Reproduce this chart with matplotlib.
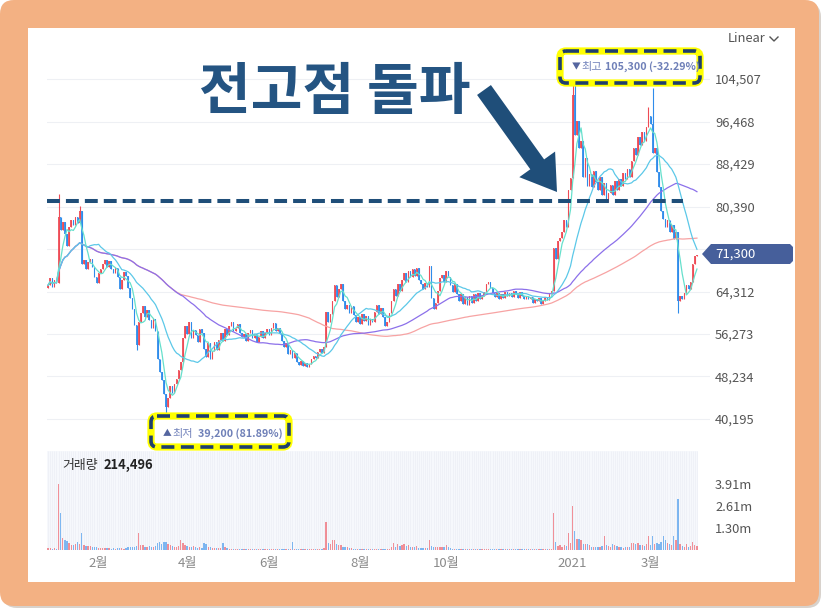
import numpy as np
import pandas as pd
import matplotlib
matplotlib.use('Agg')
import matplotlib.pyplot as plt
from matplotlib.patches import FancyBboxPatch, Rectangle, FancyArrow, Polygon

plt.rcParams['font.family'] = ['Noto Sans CJK KR', 'DejaVu Sans']

# daily closes in 1,000 KRW (late Dec 2019 -> Mar 2021), 10 per row
closes_k = [
    65.5, 66.8, 65.2, 66.5, 66.0, 78.5, 76.0, 77.5, 75.2, 73.0,
    76.5, 77.8, 76.8, 78.5, 77.2, 79.5, 69.5, 70.2, 68.5, 69.8,
    70.5, 69.0, 67.0, 66.0, 67.8, 68.5, 69.5, 70.2, 69.0, 70.0,
    68.5, 67.8, 68.8, 67.0, 64.8, 66.5, 68.0, 67.2, 65.0, 63.0,
    61.0, 58.0, 54.2, 58.5, 60.2, 61.5, 59.5, 60.8, 59.0, 57.5,
    59.2, 56.8, 51.5, 49.0, 47.5, 45.0, 42.5, 44.2, 46.5, 45.2,
    46.8, 47.8, 49.5, 51.0, 55.5, 57.8, 56.2, 58.5, 55.5, 57.0,
    56.0, 54.8, 57.2, 56.5, 53.5, 52.0, 54.5, 51.5, 53.0, 54.8,
    53.2, 55.2, 56.5, 55.0, 57.2, 56.0, 57.8, 58.5, 56.8, 57.5,
    58.2, 56.5, 55.8, 56.2, 55.0, 56.5, 57.0, 55.5, 56.2, 54.8,
    55.8, 56.8, 55.5, 56.5, 57.2, 56.0, 57.5, 58.3, 56.8, 57.5,
    56.2, 55.0, 53.8, 54.5, 52.5, 53.2, 51.8, 52.6, 51.0, 50.5,
    51.2, 50.2, 50.8, 50.0, 50.6, 51.5, 52.2, 51.8, 52.8, 53.5,
    52.6, 53.8, 60.5, 58.5, 60.0, 62.5, 65.5, 63.2, 64.8, 65.8,
    62.5, 61.0, 61.8, 60.2, 61.5, 59.8, 58.6, 59.5, 58.2, 60.0,
    58.8, 59.6, 58.0, 59.2, 58.5, 60.5, 61.8, 60.0, 61.2, 59.5,
    57.8, 58.5, 60.2, 62.5, 64.8, 63.5, 65.8, 64.5, 66.5, 67.8,
    66.2, 68.2, 67.0, 68.5, 67.2, 68.8, 66.5, 65.8, 64.8, 66.0,
    65.2, 69.2, 63.0, 61.0, 62.2, 64.5, 66.8, 67.5, 66.2, 68.2,
    67.0, 65.5, 64.2, 65.8, 63.8, 62.5, 63.8, 62.0, 63.2, 61.8,
    63.5, 62.2, 63.8, 62.5, 64.0, 62.8, 63.5, 64.2, 65.8, 66.2,
    65.0, 64.0, 63.2, 64.0, 62.8, 63.8, 63.0, 64.2, 63.5, 64.0,
    63.2, 64.5, 63.8, 63.0, 64.2, 63.4, 62.8, 63.5, 62.8, 63.2,
    62.2, 62.9, 62.5, 63.0, 62.0, 62.6, 63.2, 62.7, 63.8, 64.5,
    72.5, 70.5, 73.8, 74.5, 75.5, 77.8, 76.5, 83.5, 85.8, 101.5,
    94.0, 96.5, 91.5, 92.8, 86.0, 89.5, 84.2, 86.5, 84.0, 87.2,
    85.0, 83.5, 86.0, 82.5, 84.8, 81.2, 83.0, 84.5, 82.5, 85.2,
    83.6, 85.5, 84.2, 86.8, 85.5, 87.5, 86.0, 89.0, 91.5, 90.2,
    93.5, 92.0, 94.5, 92.8, 95.5, 97.5, 96.0, 90.5, 91.5, 87.0,
    84.0, 79.5, 78.0, 76.5, 77.8, 75.5, 76.8, 74.2, 75.5, 62.5,
    63.5, 62.8, 64.0, 65.5, 64.8, 66.2, 69.5, 71.0, 71.3,
]
first_open_k = 65.0
high_wicks_k = {5: 82.8, 15: 80.5, 249: 105.3, 250: 104.8, 285: 99.2, 287: 102.8}
low_wicks_k = {42: 53.2, 56: 39.2, 299: 60.3}

# daily volume in 1,000 shares
volumes_k = [
    90, 120, 70, 90, 60, 3910, 2200, 700, 600, 550,
    400, 320, 300, 350, 500, 380, 1000, 300, 260, 240,
    220, 200, 180, 150, 120, 110, 100, 90, 110, 95,
    80, 90, 70, 100, 120, 90, 80, 100, 150, 180,
    200, 180, 220, 1000, 320, 300, 200, 180, 220, 200,
    180, 220, 400, 450, 380, 500, 480, 350, 300, 250,
    200, 180, 250, 600, 420, 300, 250, 200, 180, 220,
    150, 130, 160, 140, 400, 380, 200, 150, 130, 120,
    110, 100, 120, 400, 200, 90, 70, 60, 50, 50,
    50, 40, 50, 40, 60, 50, 40, 45, 50, 40,
    40, 50, 40, 45, 60, 50, 40, 70, 50, 45,
    50, 60, 80, 60, 70, 60, 500, 80, 60, 50,
    40, 50, 40, 35, 40, 45, 50, 40, 50, 60,
    60, 90, 1650, 400, 350, 600, 620, 380, 300, 280,
    200, 180, 150, 120, 100, 80, 70, 60, 50, 60,
    50, 40, 50, 45, 40, 60, 70, 50, 45, 40,
    50, 45, 60, 150, 420, 200, 350, 220, 300, 380,
    250, 300, 180, 200, 150, 220, 120, 100, 90, 110,
    120, 600, 250, 200, 180, 150, 200, 180, 150, 300,
    150, 100, 80, 70, 60, 50, 45, 50, 40, 45,
    40, 45, 35, 40, 50, 40, 35, 60, 70, 50,
    40, 35, 30, 40, 35, 30, 40, 35, 30, 35,
    30, 40, 35, 30, 35, 30, 35, 30, 30, 35,
    30, 35, 30, 40, 30, 35, 40, 35, 60, 80,
    2200, 500, 250, 300, 200, 280, 250, 1000, 400, 2600,
    1100, 650, 650, 600, 350, 350, 380, 300, 200, 180,
    150, 180, 200, 250, 800, 300, 250, 200, 350, 300,
    250, 200, 150, 120, 180, 150, 200, 400, 420, 380,
    400, 300, 300, 250, 350, 800, 300, 800, 350, 400,
    350, 500, 850, 600, 400, 350, 300, 800, 600, 3000,
    350, 250, 200, 350, 200, 250, 500, 300, 214.496,
]

# trading days per month, Jan 2020 (incl. late Dec) .. Mar 2021
days_per_month = [24, 20, 22, 20, 19, 21, 22, 20, 21, 19, 21, 20, 20, 17, 23]
month_labels = {1: '2월', 3: '4월', 5: '6월', 7: '8월', 9: '10월', 12: '2021', 14: '3월'}

price_ticks = [40195, 48234, 56273, 64312, 72351, 80390, 88429, 96468, 104507]
prev_high = 81400
ma_windows = [120, 60, 20, 5]
ma_colors = ['#F7A3A3', '#8C70EA', '#5CC8E8', '#66E0CC']

RED, BLUE = '#EE4B55', '#2F8CEB'
NAVY = '#1F4E79'

W, H = 823, 610


def fig_rect(x0, y0, x1, y1):
    return [x0 / W, 1 - y1 / H, (x1 - x0) / W, (y1 - y0) / H]


close = np.array(closes_k) * 1000
n = len(close)
idx = np.arange(n)
opn = np.r_[first_open_k * 1000, close[:-1]]
high = np.maximum(opn, close)
low = np.minimum(opn, close)
for k, v in high_wicks_k.items():
    high[k] = v * 1000
for k, v in low_wicks_k.items():
    low[k] = v * 1000
up = close >= opn
colors = np.where(up, RED, BLUE)
vol = np.round(np.array(volumes_k) * 1000).astype(int)
last = close[-1]

fig = plt.figure(figsize=(W / 100, H / 100), dpi=100)
fig.patch.set_facecolor('white')

# frame
ax_bg = fig.add_axes([0, 0, 1, 1], zorder=0)
ax_bg.set_xlim(0, W)
ax_bg.set_ylim(H, 0)
ax_bg.axis('off')
ax_bg.add_patch(FancyBboxPatch((3, 3), W - 5, H - 5, boxstyle='round,pad=0,rounding_size=14',
                               fc='#D8D2CC', ec='none'))
ax_bg.add_patch(FancyBboxPatch((0, 0), W - 4, H - 4, boxstyle='round,pad=0,rounding_size=14',
                               fc='#F3B183', ec='none'))
ax_bg.add_patch(Rectangle((28, 28), 767, 554, fc='white', ec='none'))

# price panel
ax = fig.add_axes(fig_rect(47, 30, 710, 450), zorder=1)
ax.patch.set_alpha(0)
xlim = (-0.5, 314.2)
ax.set_xlim(*xlim)
ax.set_ylim(34330, 113780)

body_h = np.maximum(np.abs(close - opn), 150)
ax.vlines(idx, low, high, colors=colors, lw=0.8, zorder=2)
ax.bar(idx, body_h, bottom=np.minimum(opn, close), width=0.72, color=colors, alpha=0.9, zorder=3)

s = pd.Series(close)
for w, col in zip(ma_windows, ma_colors):
    ax.plot(idx, s.rolling(w, min_periods=1).mean(), color=col, lw=0.9, zorder=4)

ax.axhline(prev_high, xmin=0, xmax=0.96, color=NAVY, lw=2.9,
           linestyle=(0, (3.2, 1.5)), zorder=5)

ax.set_yticks(price_ticks)
# the tick right under the last-price tag stays hidden
ax.set_yticklabels([('' if abs(t - last) < 3000 else f'{t:,}') for t in price_ticks])
ax.yaxis.tick_right()
ax.tick_params(axis='y', length=0, pad=3.6, labelsize=9.3, labelcolor='#555555')
ax.set_xticks([])
ax.grid(axis='y', color='#EEF0F4', lw=0.8, zorder=0)
for sp in ax.spines.values():
    sp.set_visible(False)

# volume panel
axv = fig.add_axes(fig_rect(47, 451, 710, 550), zorder=1)
axv.patch.set_alpha(0)
axv.set_xlim(*xlim)
vmax = vol.max()
axv.set_ylim(0, vmax * 1.5)
axv.axvspan(-0.6, n - 0.4, color='#F6F8FC', lw=0, zorder=0)
axv.vlines(idx, 0, vmax * 1.5, colors='#ECEFF6', lw=0.5, zorder=0.5)
axv.bar(idx, vol, width=0.62, color=colors, alpha=0.6, zorder=2)

vticks = [vmax / 3, vmax * 2 / 3, vmax]
axv.set_yticks(vticks)
axv.set_yticklabels([f'{t / 1e6:.2f}m' for t in vticks])
axv.yaxis.tick_right()
axv.tick_params(axis='y', length=0, pad=3.6, labelsize=9.3, labelcolor='#555555')

starts = np.r_[0, np.cumsum(days_per_month)[:-1]]
mpos = [starts[m] for m in month_labels]
axv.set_xticks(mpos)
axv.set_xticklabels(list(month_labels.values()))
axv.tick_params(axis='x', length=0, pad=5, labelsize=9.5, labelcolor='#8A8A8A')
for sp in axv.spines.values():
    sp.set_visible(False)

# overlay for annotations
ov = fig.add_axes([0, 0, 1, 1], zorder=5)
ov.set_xlim(0, W)
ov.set_ylim(H, 0)
ov.axis('off')

ov.text(199, 93, '전고점 돌파', fontsize=40.5, fontweight='bold', color='#245482', va='center')
ov.add_patch(FancyArrow(484, 90, 73, 102, width=17, head_width=44, head_length=34,
                        length_includes_head=True, color=NAVY, lw=0))

hi_val = high.max()
lo_val = low.min()


def note_box(x0, y0, x1, y1):
    for ec, lw, ls in [('#FFFF00', 5.2, '-'), ('#1F3F6E', 2.6, (0, (3.6, 1.8)))]:
        ov.add_patch(FancyBboxPatch((x0, y0), x1 - x0, y1 - y0,
                                    boxstyle='round,pad=0,rounding_size=6',
                                    fc='white' if ls == '-' else 'none', ec=ec, lw=lw, ls=ls))


note_box(560, 51, 700, 83)
ov.text(572, 67, '▼', fontsize=6.3, color='#5566A0', va='center')
ov.text(581, 67, '최고', fontsize=8, color='#7484BC', va='center')
ov.text(605, 67, f'{hi_val:,.0f} ({(last - hi_val) / hi_val * 100:.2f}%)',
        fontsize=7.7, fontweight='bold', color='#6F80B8', va='center')

note_box(151, 416, 289, 447)
ov.text(163, 434, '▲', fontsize=6.3, color='#5566A0', va='center')
ov.text(172, 434, '최저', fontsize=8, color='#7484BC', va='center')
ov.text(198, 434, f'{lo_val:,.0f} ({(last - lo_val) / lo_val * 100:.2f}%)',
        fontsize=7.7, fontweight='bold', color='#6F80B8', va='center')

# last price tag
ov.add_patch(Polygon([(702, 254), (711, 244), (790, 244), (793, 247), (793, 261),
                      (790, 264), (711, 264)], closed=True, fc='#465F9B', ec='none'))
ov.text(715, 254.5, f'{last:,.0f}', fontsize=9.5, color='white', va='center')

ov.text(728, 39, 'Linear', fontsize=9.3, color='#555555', va='center')
ov.plot([770, 774, 778], [37, 41, 37], color='#555555', lw=1)

ov.text(62, 465.5, '거래량', fontsize=9.3, color='#333333', va='center')
ov.text(104, 465.5, f'{vol[-1]:,}', fontsize=9.3, fontweight='bold', color='#222222', va='center')

fig.savefig('out.png', dpi=100)
